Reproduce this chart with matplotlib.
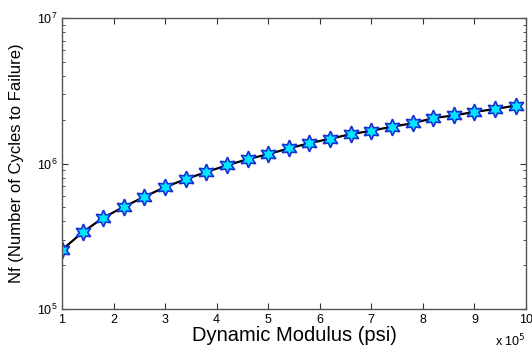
import matplotlib
matplotlib.use('Agg')
import matplotlib.pyplot as plt
from matplotlib.ticker import FuncFormatter, LogLocator

plt.rcParams['font.family'] = ['Liberation Sans', 'DejaVu Sans']

# dynamic modulus (psi)
modulus = [1.0e5, 1.4e5, 1.8e5, 2.2e5, 2.6e5, 3.0e5, 3.4e5, 3.8e5, 4.2e5, 4.6e5,
           5.0e5, 5.4e5, 5.8e5, 6.2e5, 6.6e5, 7.0e5, 7.4e5, 7.8e5, 8.2e5, 8.6e5,
           9.0e5, 9.4e5, 9.8e5]
# number of cycles to failure
nf = [2.55e5, 3.37e5, 4.24e5, 5.04e5, 5.91e5, 6.89e5, 7.81e5, 8.74e5, 9.72e5, 1.07e6,
      1.16e6, 1.27e6, 1.38e6, 1.48e6, 1.59e6, 1.68e6, 1.79e6, 1.89e6, 2.05e6, 2.14e6,
      2.26e6, 2.37e6, 2.50e6]

fig = plt.figure(figsize=(5.32, 3.49), dpi=100)
ax = fig.add_axes([0.1165, 0.1146, 0.8722, 0.8338])

ax.plot(modulus, nf, color='black', linewidth=1.6)
ax.plot(modulus, nf, linestyle='none', marker=(6, 1, 0), markersize=12,
        markerfacecolor='#00e5ff', markeredgecolor='#1530d0', markeredgewidth=1.2)

ax.set_yscale('log')
ax.set_xlim(1e5, 1e6)
ax.set_ylim(1e5, 1e7)
ax.set_xticks([i * 1e5 for i in range(1, 11)])
ax.xaxis.set_major_formatter(FuncFormatter(lambda v, p: '%d' % round(v / 1e5)))
ax.yaxis.set_major_locator(LogLocator(base=10, numticks=5))
ax.yaxis.set_minor_locator(LogLocator(base=10, subs=range(2, 10), numticks=20))

ax.tick_params(which='both', direction='in', top=True, right=True,
               labelsize=9, colors='#333333', labelcolor='black')
ax.tick_params(which='major', length=4)
ax.tick_params(which='minor', length=2.5)
for s in ax.spines.values():
    s.set_color('#555555')
    s.set_linewidth(1.0)

ax.set_xlabel('Dynamic Modulus (psi)', fontsize=14.5, labelpad=0)
ax.set_ylabel('Nf (Number of Cycles to Failure)', fontsize=12, labelpad=9)
ax.text(1.0, -0.08, r'x 10$^5$', transform=ax.transAxes, ha='right', va='top', fontsize=9)

fig.savefig('out.png', dpi=100)
